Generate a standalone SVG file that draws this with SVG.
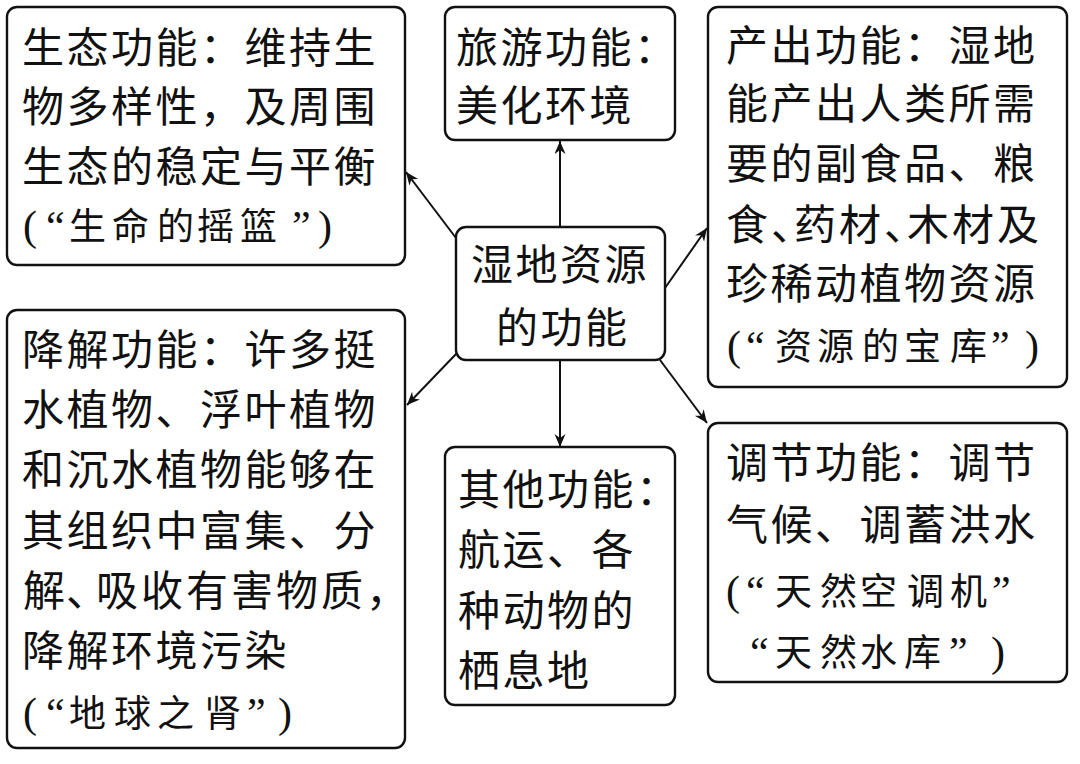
<svg xmlns="http://www.w3.org/2000/svg" width="1080" height="764" viewBox="0 0 1080 764">
<style>
.box{fill:#fff;stroke:#111;stroke-width:2.4}
.t{font-family:"Liberation Serif","Noto Sans CJK SC",serif;font-size:42px;letter-spacing:2.5px;fill:#111}
.q{font-family:"Liberation Serif","Noto Sans CJK SC",serif;font-size:37px;fill:#111}
.p{font-size:42px}
.c{fill:none;stroke:#111;stroke-width:2;marker-end:url(#ah)}
</style>
<defs>
<marker id="ah" markerUnits="userSpaceOnUse" markerWidth="16" markerHeight="12" refX="13" refY="5.5" orient="auto">
<path d="M0,0 L13,5.5 L0,11 L4,5.5 Z" fill="#111"/>
</marker>
</defs>
<rect width="1080" height="764" fill="#fff"/>
<g id="connectors">
<line class="c" x1="560" y1="227" x2="560" y2="141"/>
<line class="c" x1="560" y1="360" x2="560" y2="447"/>
<line class="c" x1="456" y1="238" x2="406" y2="172"/>
<line class="c" x1="457" y1="353" x2="407" y2="405"/>
<line class="c" x1="665" y1="288" x2="707" y2="228"/>
<line class="c" x1="660" y1="360" x2="707" y2="423"/>
</g>
<g id="node-ecology">
<rect class="box" x="7" y="7" width="398" height="258" rx="10"/>
<text class="t" x="22" y="63">生态功能：维持生</text>
<text class="t" x="22" y="122">物多样性，及周围</text>
<text class="t" x="22" y="182">生态的稳定与平衡</text>
<text class="q" x="23 46 69 112 157 197 240 292 318" y="240"><tspan class="p">(“</tspan>生命的摇篮<tspan class="p">”)</tspan></text>
</g>
<g id="node-tourism">
<rect class="box" x="445" y="7" width="230" height="133" rx="10"/>
<text class="t" x="456" y="63">旅游功能：</text>
<text class="t" x="456" y="121">美化环境</text>
</g>
<g id="node-center">
<rect class="box" x="456" y="227" width="209" height="133" rx="10"/>
<text class="t" x="471" y="280">湿地资源</text>
<text class="t" x="496" y="343">的功能</text>
</g>
<g id="node-output">
<rect class="box" x="708" y="7" width="359" height="380" rx="10"/>
<text class="t" x="726" y="61">产出功能：湿地</text>
<text class="t" x="726" y="119">能产出人类所需</text>
<text class="t" x="726" y="179">要的副食品、粮</text>
<text class="t" x="726 771 794 839 884 907 952 997" y="240" letter-spacing="0">食、药材、木材及</text>
<text class="t" x="726" y="299">珍稀动植物资源</text>
<text class="q" x="727 746 775 817 862 904 950 991 1025" y="360"><tspan class="p">(“</tspan>资源的宝库<tspan class="p">”)</tspan></text>
</g>
<g id="node-degrade">
<rect class="box" x="7" y="310" width="398" height="438" rx="10"/>
<text class="t" x="22" y="365">降解功能：许多挺</text>
<text class="t" x="22" y="425">水植物、浮叶植物</text>
<text class="t" x="22" y="485">和沉水植物能够在</text>
<text class="t" x="22" y="546">其组织中富集、分</text>
<text class="t" x="23 66 96 141 186 231 276 321 366" y="606" letter-spacing="0">解、吸收有害物质，</text>
<text class="t" x="22" y="666">降解环境污染</text>
<text class="q" x="23 46 69 114 157 204 247 278" y="727"><tspan class="p">(“</tspan>地球之肾<tspan class="p">”)</tspan></text>
</g>
<g id="node-other">
<rect class="box" x="445" y="447" width="230" height="258" rx="10"/>
<text class="t" x="458" y="505">其他功能：</text>
<text class="t" x="458" y="565">航运、各</text>
<text class="t" x="458" y="626">种动物的</text>
<text class="t" x="458" y="686">栖息地</text>
</g>
<g id="node-regulate">
<rect class="box" x="708" y="423" width="359" height="259" rx="10"/>
<text class="t" x="726" y="478">调节功能：调节</text>
<text class="t" x="726" y="540">气候、调蓄洪水</text>
<text class="q" x="726 746 775 820 860 907 950 992" y="605"><tspan class="p">(“</tspan>天然空调机<tspan class="p">”</tspan></text>
<text class="q" x="750 775 820 860 904 949 991" y="666"><tspan class="p">“</tspan>天然水库<tspan class="p">”)</tspan></text>
</g>
</svg>
